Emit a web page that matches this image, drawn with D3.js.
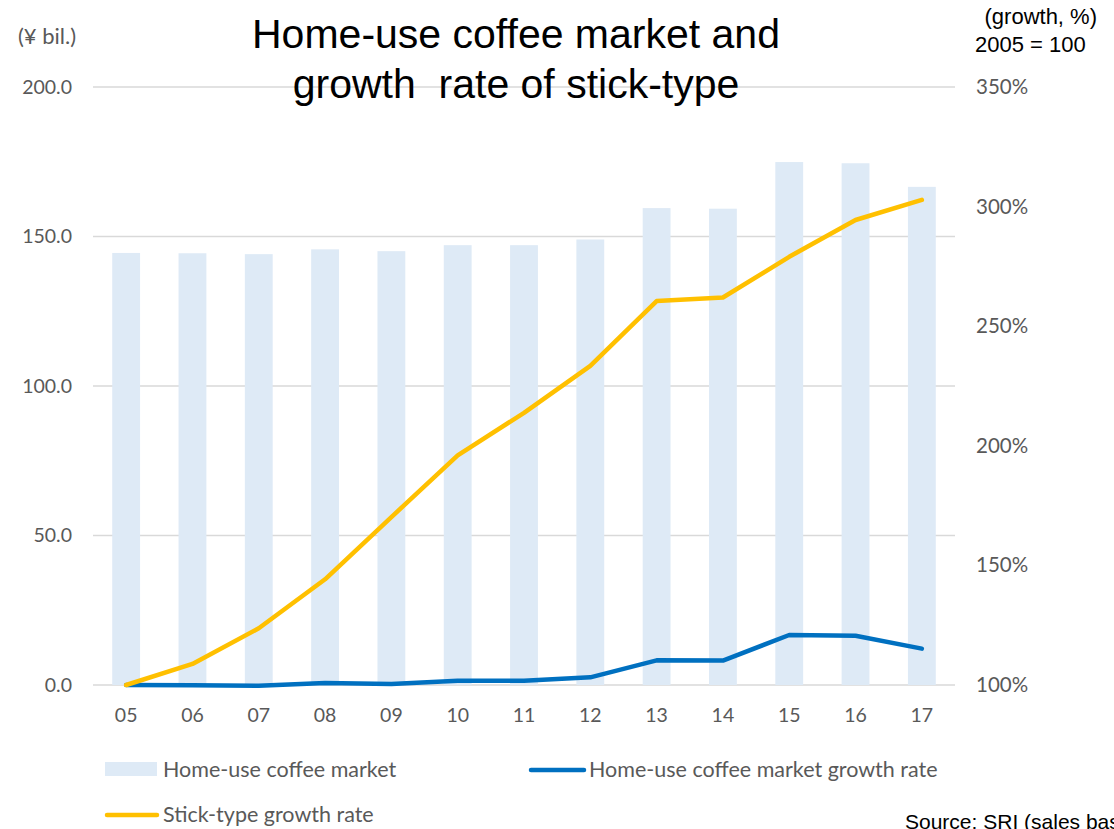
<!DOCTYPE html>
<html>
<head>
<meta charset="utf-8">
<script src="https://cdn.jsdelivr.net/npm/d3@7"></script>
<style>
  body { margin: 0; background: #fff; }
  svg { display: block; }
</style>
</head>
<body>
<svg id="chart" width="1114" height="829"></svg>
<script>
// data
var years = ["05","06","07","08","09","10","11","12","13","14","15","16","17"];
var market = [144.5,144.4,144.1,145.7,145.1,147.1,147.1,149.0,159.5,159.3,174.9,174.5,166.6];
var marketGrowth = [100,99.9,99.7,100.8,100.4,101.8,101.8,103.2,110.3,110.2,120.9,120.6,115.2];
var stickGrowth = [100,108.8,123.7,144.2,170.2,196,213.8,233.4,260.5,262,279,294.4,302.8];
var leftTicks = [0,50,100,150,200];
var rightTicks = [100,150,200,250,300,350];

var svg = d3.select("#chart"),
    margin = {top: 87, right: 159, bottom: 144, left: 93},
    width = +svg.attr("width") - margin.left - margin.right,
    height = +svg.attr("height") - margin.top - margin.bottom;

var labelFont = "Lato, 'Noto Sans', sans-serif";
var arial = "'Liberation Sans', Arial, sans-serif";
var grey = "#595959";

const g = svg.append("g")
    .attr("transform", "translate(" + margin.left + "," + margin.top + ")");

const x = d3.scaleBand().domain(years).range([0, width]).paddingInner(0.58).paddingOuter(0.29);
const y = d3.scaleLinear().domain([0, 200]).range([height, 0]);
const y2 = d3.scaleLinear().domain([100, 350]).range([height, 0]);

// gridlines
g.append("g")
  .selectAll("line")
  .data(leftTicks)
  .join("line")
    .attr("x1", 0).attr("x2", width)
    .attr("y1", d => y(d)).attr("y2", d => y(d))
    .attr("stroke", "#d9d9d9").attr("stroke-width", 1.5);

// bars
g.append("g")
  .selectAll("rect")
  .data(market)
  .join("rect")
    .attr("x", (d, i) => x(years[i]))
    .attr("y", d => y(d))
    .attr("width", x.bandwidth())
    .attr("height", d => height - y(d))
    .attr("fill", "#deeaf6");

// left axis
var leftAxis = g.append("g")
  .call(d3.axisLeft(y).tickValues(leftTicks).tickFormat(d3.format(".1f")).tickSize(0).tickPadding(21));
leftAxis.select(".domain").remove();
leftAxis.selectAll("text").attr("font-family", labelFont).attr("font-size", 19.5).attr("fill", grey);

// right axis
var rightAxis = g.append("g")
  .attr("transform", "translate(" + width + ",0)")
  .call(d3.axisRight(y2).tickValues(rightTicks).tickFormat(d => d + "%").tickSize(0).tickPadding(21));
rightAxis.select(".domain").remove();
rightAxis.selectAll("text").attr("font-family", labelFont).attr("font-size", 20.5).attr("fill", grey);

// x axis
var xAxis = g.append("g")
  .attr("transform", "translate(0," + height + ")")
  .call(d3.axisBottom(x).tickSize(0).tickPadding(23));
xAxis.select(".domain").remove();
xAxis.selectAll("text").attr("font-family", labelFont).attr("font-size", 19.5).attr("fill", grey);

// lines
var line = d3.line()
  .x((d, i) => x(years[i]) + x.bandwidth() / 2)
  .y(d => y2(d));

g.append("path")
  .datum(marketGrowth)
  .attr("d", line)
  .attr("fill", "none")
  .attr("stroke", "#0070c0")
  .attr("stroke-width", 4.5)
  .attr("stroke-linecap", "round")
  .attr("stroke-linejoin", "round");

g.append("path")
  .datum(stickGrowth)
  .attr("d", line)
  .attr("fill", "none")
  .attr("stroke", "#ffc000")
  .attr("stroke-width", 4.5)
  .attr("stroke-linecap", "round")
  .attr("stroke-linejoin", "round");

// title
var title = svg.append("text")
  .attr("text-anchor", "middle")
  .attr("font-family", arial)
  .attr("font-size", 41).attr("fill", "#000");
title.append("tspan").attr("x", 516).attr("y", 48).text("Home-use coffee market and");
title.append("tspan").attr("x", 516).attr("y", 98).text("growth\u00a0 rate of stick-type");

// axis unit labels
svg.append("text")
  .attr("x", 18).attr("y", 44)
  .attr("font-family", labelFont).attr("font-size", 22).attr("fill", grey)
  .text("(¥ bil.)");

svg.append("text")
  .attr("x", 1097).attr("y", 24).attr("text-anchor", "end")
  .attr("font-family", arial).attr("font-size", 22).attr("fill", "#000")
  .text("(growth, %)");
svg.append("text")
  .attr("x", 975).attr("y", 52)
  .attr("font-family", arial).attr("font-size", 22).attr("fill", "#000")
  .text("2005 = 100");

// legend
var legend = svg.append("g").attr("font-family", labelFont).attr("font-size", 21.5).attr("fill", grey);

legend.append("rect")
  .attr("x", 105).attr("y", 762).attr("width", 52).attr("height", 14).attr("fill", "#deeaf6");
legend.append("text").attr("x", 163).attr("y", 777).text("Home-use coffee market");

legend.append("line")
  .attr("x1", 531).attr("x2", 584).attr("y1", 770).attr("y2", 770)
  .attr("stroke", "#0070c0").attr("stroke-width", 4.5).attr("stroke-linecap", "round");
legend.append("text").attr("x", 589).attr("y", 777).text("Home-use coffee market growth rate");

legend.append("line")
  .attr("x1", 107).attr("x2", 157).attr("y1", 815).attr("y2", 815)
  .attr("stroke", "#ffc000").attr("stroke-width", 4.5).attr("stroke-linecap", "round");
legend.append("text").attr("x", 163).attr("y", 822).text("Stick-type growth rate");

// source note, runs off the bottom-right edge like the original
svg.append("text")
  .attr("x", 905).attr("y", 829)
  .attr("font-family", arial).attr("font-size", 21).attr("fill", "#000")
  .text("Source: SRI (sales basis)");
</script>
</body>
</html>
